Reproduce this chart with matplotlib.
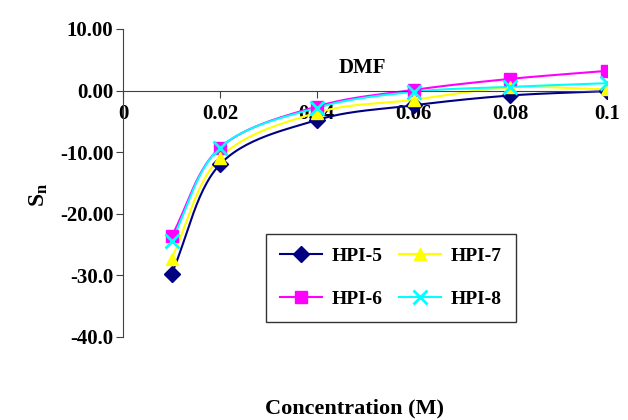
import numpy as np
import matplotlib
matplotlib.use('Agg')
import matplotlib.pyplot as plt

plt.rcParams['font.family'] = ['Liberation Serif', 'DejaVu Serif']
plt.rcParams['font.weight'] = 'bold'
plt.rcParams['mathtext.fontset'] = 'custom'
plt.rcParams['mathtext.rm'] = 'Liberation Serif:bold'
plt.rcParams['mathtext.bf'] = 'Liberation Serif:bold'
plt.rcParams['mathtext.it'] = 'Liberation Serif:bold'

# ─── DATA ────────────────────────────────────────────────────────────────────
conc = [0.01, 0.02, 0.04, 0.06, 0.08, 0.1]
hpi5 = [-29.8, -12.0, -4.8, -2.4, -0.8, -0.1]
hpi6 = [-23.7, -9.3, -2.6, 0.1, 1.9, 3.2]
hpi7 = [-27.3, -10.9, -3.6, -1.5, 0.5, 0.2]
hpi8 = [-24.4, -9.3, -2.8, -0.2, 0.6, 1.2]

series = [
    ('HPI-5', hpi5, '#000080', 'D', 8),
    ('HPI-6', hpi6, '#FF00FF', 's', 8),
    ('HPI-7', hpi7, '#FFFF00', '^', 9),
    ('HPI-8', hpi8, '#00FFFF', 'x', 10),
]
# two columns: HPI-5 / HPI-6 left, HPI-7 / HPI-8 right
legend_order = ['HPI-5', 'HPI-6', 'HPI-7', 'HPI-8']


def smooth(x, y, n=30):
    # Catmull-Rom style smoothing, like the spreadsheet's "smoothed line"
    x = np.asarray(x, float)
    y = np.asarray(y, float)
    px = np.concatenate([[2 * x[0] - x[1]], x, [2 * x[-1] - x[-2]]])
    py = np.concatenate([[2 * y[0] - y[1]], y, [2 * y[-1] - y[-2]]])
    xs, ys = [], []
    for i in range(1, len(px) - 2):
        t = np.linspace(0, 1, n)
        for arr, out in ((px, xs), (py, ys)):
            p0, p1, p2, p3 = arr[i - 1], arr[i], arr[i + 1], arr[i + 2]
            out.extend(0.5 * ((2 * p1) + (-p0 + p2) * t
                              + (2 * p0 - 5 * p1 + 4 * p2 - p3) * t ** 2
                              + (-p0 + 3 * p1 - 3 * p2 + p3) * t ** 3))
    return np.array(xs), np.array(ys)


fig = plt.figure(figsize=(6.28, 4.2), dpi=100)
ax = fig.add_axes([0.196, 0.198, 0.771, 0.733])

handles = {}
for name, vals, color, marker, ms in series:
    sx, sy = smooth(conc, vals)
    ax.plot(sx, sy, color=color, linewidth=1.5, zorder=2)
    mew = 2 if marker == 'x' else 1
    ax.plot(conc, vals, linestyle='none', marker=marker, color=color,
            markersize=ms, markeredgewidth=mew, zorder=3)
    h, = ax.plot([], [], color=color, linewidth=1.5, marker=marker,
                 markersize=ms, markeredgewidth=mew)
    handles[name] = h

ax.set_xlim(0, 0.1)
ax.set_ylim(-40, 10)
ax.set_xticks([0, 0.02, 0.04, 0.06, 0.08, 0.1])
ax.set_xticklabels(['0', '0.02', '0.04', '0.06', '0.08', '0.1'])
ax.set_yticks([10, 0, -10, -20, -30, -40])
ax.set_yticklabels(['10.00', '0.00', '-10.00', '-20.00', '-30.0', '-40.0'])

ax.spines['top'].set_visible(False)
ax.spines['right'].set_visible(False)
ax.spines['bottom'].set_position(('data', 0))
for s in ('left', 'bottom'):
    ax.spines[s].set_color('#404040')
ax.tick_params(axis='both', direction='out', length=5, color='#404040',
               labelsize=15)
ax.tick_params(axis='x', pad=5)
ax.tick_params(axis='y', pad=2)
for lab in ax.get_xticklabels() + ax.get_yticklabels():
    lab.set_fontweight('bold')

ax.text(0.495, 0.872, 'DMF', transform=ax.transAxes, ha='center', va='center',
        fontsize=15, fontweight='bold')

fig.text(0.062, 0.535, r'$\mathbf{S_n}$', rotation=90, ha='center', va='center',
         fontsize=17)
fig.text(0.565, 0.028, 'Concentration (M)', ha='center', va='center',
         fontsize=16, fontweight='bold')

leg = ax.legend([handles[n] for n in legend_order], legend_order, ncol=2,
                loc='upper left', bbox_to_anchor=(0.295, 0.334),
                frameon=True, fancybox=False, fontsize=14,
                handlelength=2.2, handletextpad=0.5, borderpad=0.7,
                labelspacing=1.3, columnspacing=0.8, borderaxespad=0)
leg.get_frame().set_edgecolor('black')
leg.get_frame().set_linewidth(1.0)
for t in leg.get_texts():
    t.set_fontweight('bold')

plt.savefig('out.png', dpi=100)
plt.close()
